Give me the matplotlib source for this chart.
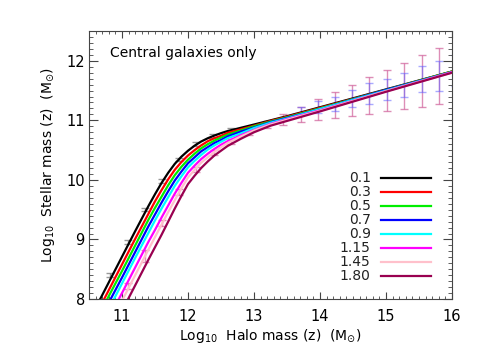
import matplotlib
matplotlib.use("Agg")
import matplotlib.pyplot as plt
from matplotlib.ticker import MultipleLocator

plt.rcParams["font.family"] = ["DejaVu Sans"]
plt.rcParams["mathtext.default"] = "regular"

# ── Data ───────────────────────────────────────────────────────────────────────
halo_mass = [10.6, 10.8, 11.0, 11.2, 11.4, 11.5, 11.6, 11.7, 11.8, 11.9,
             12.0, 12.1, 12.2, 12.3, 12.4, 12.5, 12.6, 12.8, 13.0, 13.25,
             13.5, 14.0, 15.0, 16.0]

sm_z010 = [7.85, 8.28, 8.71, 9.14, 9.56, 9.76, 9.95, 10.12, 10.27, 10.39,
           10.49, 10.575, 10.645, 10.70, 10.745, 10.785, 10.82, 10.875, 10.93, 11.0,
           11.07, 11.22, 11.52, 11.82]
sm_z030 = [7.72, 8.15, 8.58, 9.01, 9.43, 9.64, 9.83, 10.01, 10.17, 10.30,
           10.41, 10.50, 10.58, 10.65, 10.70, 10.74, 10.79, 10.85, 10.91, 10.99,
           11.06, 11.21, 11.51, 11.82]
sm_z050 = [7.62, 8.05, 8.47, 8.90, 9.33, 9.53, 9.72, 9.91, 10.08, 10.22,
           10.34, 10.44, 10.53, 10.60, 10.66, 10.71, 10.76, 10.83, 10.90, 10.98,
           11.05, 11.20, 11.51, 11.82]
sm_z070 = [7.51, 7.94, 8.36, 8.79, 9.22, 9.42, 9.62, 9.81, 9.99, 10.14,
           10.28, 10.38, 10.48, 10.55, 10.62, 10.67, 10.73, 10.81, 10.88, 10.97,
           11.04, 11.19, 11.51, 11.81]
sm_z090 = [7.40, 7.83, 8.26, 8.69, 9.11, 9.32, 9.52, 9.71, 9.90, 10.06,
           10.21, 10.32, 10.42, 10.51, 10.58, 10.64, 10.70, 10.78, 10.87, 10.96,
           11.03, 11.19, 11.50, 11.81]
sm_z115 = [7.25, 7.68, 8.10, 8.53, 8.96, 9.16, 9.37, 9.57, 9.77, 9.95,
           10.12, 10.24, 10.35, 10.44, 10.52, 10.59, 10.65, 10.75, 10.84, 10.94,
           11.02, 11.17, 11.49, 11.81]
sm_z145 = [7.12, 7.55, 7.97, 8.40, 8.83, 9.04, 9.25, 9.46, 9.66, 9.86,
           10.04, 10.17, 10.29, 10.38, 10.47, 10.55, 10.62, 10.73, 10.83, 10.93,
           11.01, 11.16, 11.49, 11.80]
sm_z180 = [6.95, 7.38, 7.80, 8.23, 8.66, 8.87, 9.08, 9.30, 9.52, 9.73,
           9.93, 10.07, 10.20, 10.31, 10.41, 10.49, 10.57, 10.69, 10.80, 10.91,
           10.99, 11.15, 11.48, 11.80]

z_labels = ["0.1", "0.3", "0.5", "0.7", "0.9", "1.15", "1.45", "1.80"]
z_colors = ["#000000", "#ff0000", "#00ee00", "#0000ff", "#00ffff",
            "#ff00ff", "#ffc0cb", "#990050"]

# points with error bars
grey_x = [10.82, 11.09, 11.35, 11.61, 11.86, 12.12, 12.38, 12.65]
grey_y = [8.40, 8.96, 9.50, 9.98, 10.34, 10.60, 10.74, 10.85]
grey_err = [0.03, 0.03, 0.03, 0.03, 0.03, 0.03, 0.03, 0.03]

pink_x = [11.09, 11.35, 11.61, 11.87, 12.12, 12.39, 12.65, 12.92, 13.19,
          13.44, 13.71, 13.97, 14.23, 14.49, 14.74, 15.01, 15.27, 15.54, 15.80]
pink_y = [8.22, 8.72, 9.27, 9.80, 10.18, 10.46, 10.65, 10.80, 10.93,
          11.01, 11.10, 11.18, 11.26, 11.34, 11.42, 11.50, 11.58, 11.66, 11.74]
pink_err = [0.05, 0.10, 0.05, 0.05, 0.04, 0.04, 0.04, 0.05, 0.06,
            0.09, 0.13, 0.18, 0.22, 0.26, 0.31, 0.35, 0.39, 0.43, 0.47]

blue_x = [13.71, 13.97, 14.23, 14.49, 14.74, 15.01, 15.27, 15.54, 15.80, 16.04]
blue_y = [11.17, 11.22, 11.28, 11.37, 11.45, 11.52, 11.60, 11.69, 11.75, 11.84]
blue_err = [0.05, 0.10, 0.12, 0.14, 0.17, 0.18, 0.20, 0.22, 0.25, 0.26]

curves = [sm_z010, sm_z030, sm_z050, sm_z070, sm_z090, sm_z115, sm_z145, sm_z180]

# ── Figure ────────────────────────────────────────────────────────────────────
fig = plt.figure(figsize=(4.79, 3.6), dpi=100)
ax = fig.add_axes([0.1858, 0.1694, 0.7578, 0.7444])

ax.errorbar(grey_x, grey_y, yerr=grey_err, fmt="none", ecolor="#808080",
            elinewidth=1, capsize=3, alpha=0.8, zorder=1)
ax.errorbar(pink_x, pink_y, yerr=pink_err, fmt="none", ecolor="#d2689f",
            elinewidth=1, capsize=3, alpha=0.75, zorder=1)
ax.errorbar(blue_x, blue_y, yerr=blue_err, fmt="none", ecolor="#6464ff",
            elinewidth=1, capsize=3, alpha=0.55, zorder=1)

for sm, col in zip(curves, z_colors):
    ax.plot(halo_mass, sm, color=col, lw=1.6, zorder=3)

ax.set_xlim(10.5, 16)
ax.set_ylim(8, 12.5)
ax.xaxis.set_major_locator(MultipleLocator(1))
ax.xaxis.set_minor_locator(MultipleLocator(0.1))
ax.yaxis.set_major_locator(MultipleLocator(1))
ax.yaxis.set_minor_locator(MultipleLocator(0.1))

ax.tick_params(axis="x", which="major", direction="in", top=True,
               length=5, width=0.8, labelsize=10.5, pad=7.5, color="#444444")
ax.tick_params(axis="x", which="minor", direction="in", top=True,
               length=2.5, width=0.6, color="#444444")
ax.tick_params(axis="y", which="major", direction="in", right=True,
               length=6.5, width=0.8, labelsize=10.5, pad=3, color="#444444")
ax.tick_params(axis="y", which="minor", direction="in", right=True,
               length=3.2, width=0.6, color="#444444")
for sp in ax.spines.values():
    sp.set_linewidth(0.8)
    sp.set_color("#444444")

ax.set_xlabel(r"Log$_{10}$  Halo mass (z)  (M$_{\odot}$)", fontsize=10)
ax.xaxis.set_label_coords(0.5, -0.138)
ax.xaxis.label.set_va("center")
ax.set_ylabel(r"Log$_{10}$  Stellar mass (z)  (M$_{\odot}$)", fontsize=10)
ax.yaxis.set_label_coords(-0.113, 0.5)
ax.yaxis.label.set_va("center")

ax.text(0.058, 0.918, "Central galaxies only", transform=ax.transAxes,
        fontsize=10, ha="left", va="center")

# legend drawn by hand, IDL style
for i, (lab, col) in enumerate(zip(z_labels, z_colors)):
    yy = 0.4526 - i * 0.0522
    ax.text(0.776, yy, lab, transform=ax.transAxes, fontsize=10,
            ha="right", va="center", color="#222222")
    ax.plot([0.8036, 0.9413], [yy, yy], transform=ax.transAxes,
            color=col, lw=1.6, zorder=4)

plt.savefig("out.png", dpi=100)
plt.close()
